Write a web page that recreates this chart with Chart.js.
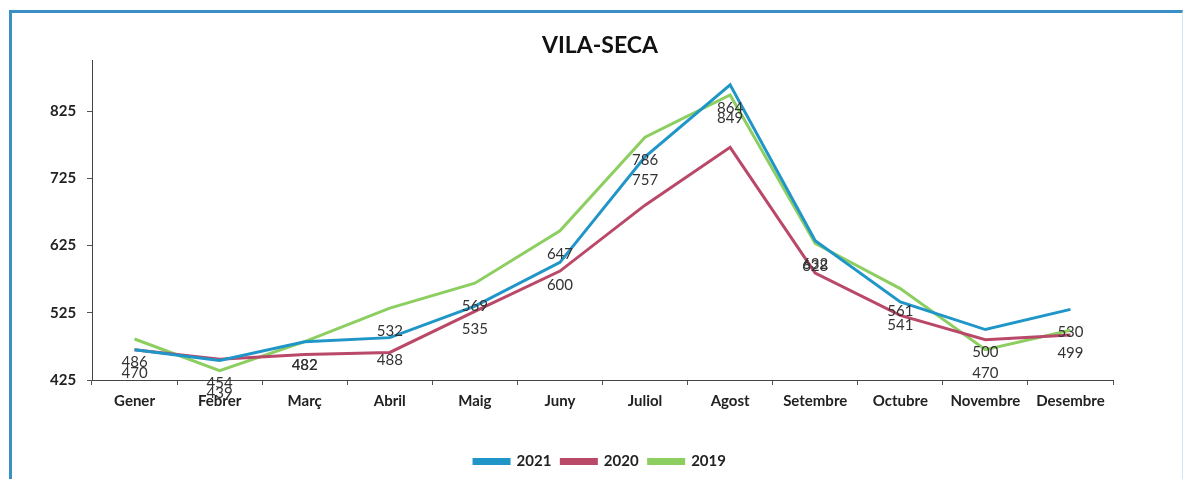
<!DOCTYPE html>
<html>
<head>
<meta charset="utf-8">
<script src="https://cdn.jsdelivr.net/npm/chart.js@4/dist/chart.umd.min.js"></script>
<style>
  html, body { margin: 0; padding: 0; background: #fff; }
  #wrap { position: relative; width: 1185px; height: 479px; }
  #frame {
    position: absolute; left: 9px; top: 10px; width: 1170px; height: 480px;
    border-left: 3px solid #3a8fc4; border-top: 3px solid #3a8fc4; border-right: 1px solid #d4e6f1;
  }
  #chartBox { position: absolute; left: 0; top: 0; width: 1185px; height: 479px; }
</style>
</head>
<body>
<div id="wrap">
  <div id="frame"></div>
  <div id="chartBox"><canvas id="lineChart"></canvas></div>
</div>
<script>
var months = ["Gener", "Febrer", "Març", "Abril", "Maig", "Juny", "Juliol", "Agost", "Setembre", "Octubre", "Novembre", "Desembre"];

var data2021 = [470, 454, 482, 488, 535, 600, 757, 864, 632, 541, 500, 530];
var data2020 = [470, 456, 463, 466, 527, 587, 685, 771, 584, 521, 485, 492];
var data2019 = [486, 439, 482, 532, 569, 647, 786, 849, 628, 561, 470, 499];

var yTicks = [425, 525, 625, 725, 825];

var chartColors = {
	blue: 'rgb(32, 150, 200)',
	red: 'rgb(186, 72, 104)',
	green: 'rgb(140, 206, 96)'
};

var fontFamily = 'Lato, "Open Sans", sans-serif';

// value labels under the 2021 and 2019 points, like the original sheet
var valueLabels = {
	id: 'valueLabels',
	afterDatasetsDraw: function (chart) {
		var ctx = chart.ctx;
		ctx.save();
		ctx.font = '15px ' + fontFamily;
		ctx.fillStyle = '#333';
		ctx.textAlign = 'center';
		ctx.textBaseline = 'middle';
		chart.data.datasets.forEach(function (ds, di) {
			if (!ds.showValues) return;
			var meta = chart.getDatasetMeta(di);
			meta.data.forEach(function (pt, i) {
				ctx.fillText(ds.data[i], pt.x, pt.y + 23);
			});
		});
		ctx.restore();
	}
};

var ctx = document.getElementById("lineChart").getContext("2d");
var myChart = new Chart(ctx, {
	type: 'line',
	data: {
		labels: months,
		datasets: [{
			label: '2021',
			data: data2021,
			borderColor: chartColors.blue,
			backgroundColor: chartColors.blue,
			borderWidth: 3,
			pointRadius: 0,
			tension: 0,
			showValues: true
		}, {
			label: '2020',
			data: data2020,
			borderColor: chartColors.red,
			backgroundColor: chartColors.red,
			borderWidth: 3,
			pointRadius: 0,
			tension: 0
		}, {
			label: '2019',
			data: data2019,
			borderColor: chartColors.green,
			backgroundColor: chartColors.green,
			borderWidth: 3,
			pointRadius: 0,
			tension: 0,
			showValues: true
		}]
	},
	plugins: [valueLabels],
	options: {
		responsive: true,
		maintainAspectRatio: false,
		animation: false,
		layout: {
			// left padding keeps title and legend centred over the plot
			padding: { left: 87, right: 72, top: 32, bottom: 0 }
		},
		plugins: {
			title: {
				display: true,
				text: 'VILA-SECA',
				color: '#111',
				font: { family: fontFamily, size: 23, weight: 'bold' },
				padding: { top: 0, bottom: 1 }
			},
			legend: {
				position: 'bottom',
				labels: {
					color: '#222',
					font: { family: fontFamily, size: 15, weight: 'bold' },
					boxWidth: 35,
					boxHeight: 4,
					padding: 10
				}
			},
			tooltip: { enabled: false }
		},
		scales: {
			x: {
				offset: true,
				grid: {
					offset: true,
					drawOnChartArea: false,
					drawTicks: true,
					tickLength: 5,
					color: '#555'
				},
				border: { color: '#444', width: 1 },
				ticks: {
					color: '#222',
					padding: 7,
					maxRotation: 0,
					autoSkip: false,
					font: { family: fontFamily, size: 15, weight: 'bold' }
				},
				afterFit: function (scale) { scale.height = 64; }
			},
			y: {
				min: 425,
				max: 900,
				grid: {
					drawOnChartArea: false,
					drawTicks: true,
					tickLength: 5,
					color: '#555'
				},
				border: { color: '#444', width: 1 },
				ticks: {
					// mirrored with a negative padding so the labels sit left of the axis
					mirror: true,
					crossAlign: 'near',
					padding: -42,
					color: '#222',
					font: { family: fontFamily, size: 15, weight: 'bold' }
				},
				afterBuildTicks: function (scale) {
					scale.ticks = yTicks.map(function (v) { return { value: v }; });
				},
				afterFit: function (scale) { scale.width = 5; }
			}
		}
	}
});
</script>
</body>
</html>
